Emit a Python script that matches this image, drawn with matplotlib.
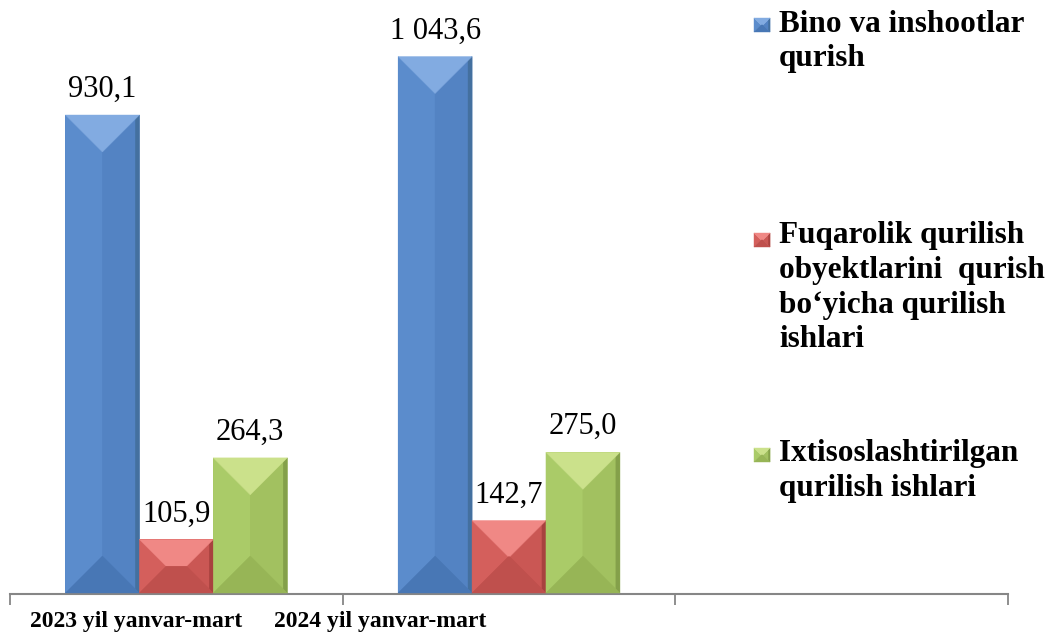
import matplotlib.pyplot as plt
from matplotlib.patches import Polygon
from matplotlib.transforms import IdentityTransform
import numpy as np

# data
periods = ['2023 yil yanvar-mart', '2024 yil yanvar-mart']
series_names = ['Bino va inshootlar\nqurish',
                'Fuqarolik qurilish\nobyektlarini  qurish\nbo\u2018yicha qurilish\nishlari',
                'Ixtisoslashtirilgan\nqurilish ishlari']
bino = [930.1, 1043.6]
fuqarolik = [105.9, 142.7]
ixtisos = [264.3, 275.0]
labels_bino = ['930,1', '1 043,6']
labels_fuq = ['105,9', '142,7']
labels_ixt = ['264,3', '275,0']

# base, top, left, right, bottom, right edge
shades = [
    ['#5587c8', '#82abe1', '#5b8ccc', '#5383c3', '#4877b5', '#44709f'],
    ['#c9514e', '#f08885', '#d45f5c', '#ca5754', '#bf504d', '#a8423f'],
    ['#a4c462', '#cbe18b', '#aacb68', '#a2c160', '#97b556', '#84a04a'],
]

W, H, DPI = 1052, 644, 100
FONT = 'Liberation Serif'

fig = plt.figure(figsize=(W / DPI, H / DPI), dpi=DPI)
ax = fig.add_axes([10 / W, 50 / H, 998 / W, 1 - 50 / H])
ax.set_xlim(-0.5, 2.5)
ax.set_ylim(0, 594 / 0.515)


def bevel(x0, y0, x1, y1, cols, z=3, edge=4):
    # x0..y1 in display pixels
    d = min(x1 - x0, y1 - y0) / 2
    faces = [
        ([(x0, y0), (x0, y1), (x0 + d, y1 - d), (x0 + d, y0 + d)], cols[2]),
        ([(x1, y0), (x1, y1), (x1 - d, y1 - d), (x1 - d, y0 + d)], cols[3]),
        ([(x1 - edge, y0 + edge), (x1, y0), (x1, y1), (x1 - edge, y1 - edge)], cols[5]),
        ([(x0, y1), (x1, y1), (x1 - d, y1 - d), (x0 + d, y1 - d)], cols[1]),
        ([(x0, y0), (x1, y0), (x1 - d, y0 + d), (x0 + d, y0 + d)], cols[4]),
    ]
    for pts, c in faces:
        fig.add_artist(Polygon(pts, closed=True, facecolor=c, edgecolor=c,
                               linewidth=0.3, transform=IdentityTransform(), zorder=z))


bw = 1 / 4.5
x = np.arange(len(periods))
all_vals = [bino, fuqarolik, ixtisos]
all_labels = [labels_bino, labels_fuq, labels_ixt]
for i, (vals, labs) in enumerate(zip(all_vals, all_labels)):
    bars = ax.bar(x + (i - 1) * bw, vals, bw, color=shades[i][0], zorder=2)
    for b, lab in zip(bars, labs):
        ax.annotate(lab, (b.get_x() + b.get_width() / 2, b.get_height()),
                    xytext=(0, 13), textcoords='offset points',
                    ha='center', va='baseline', fontsize=22, family=FONT)

fig.canvas.draw()
for i, vals in enumerate(all_vals):
    for j, v in enumerate(vals):
        x0, y0 = ax.transData.transform((x[j] + (i - 1.5) * bw, 0))
        x1, y1 = ax.transData.transform((x[j] + (i - 0.5) * bw, v))
        bevel(x0, y0 + 1, x1, y1, shades[i])

# axis
for s in ['top', 'left', 'right']:
    ax.spines[s].set_visible(False)
ax.spines['bottom'].set_color('#868686')
ax.spines['bottom'].set_linewidth(1.5)
ax.spines['bottom'].set_zorder(5)
ax.set_yticks([])
ax.set_xticks([-0.5, 0.5, 1.5, 2.5])
ax.set_xticklabels([])
ax.tick_params(axis='x', length=8, width=1.3, color='#868686', direction='out')

label_px = [136, 380]
for lx, txt in zip(label_px, periods):
    fig.text(lx / W, 17 / H, txt, ha='center', va='baseline',
             fontsize=17, fontweight='bold', family=FONT)

# legend (first-line baselines; text anchored on its last line)
leg_base = [33, 248, 463]
line_px = 33
for i, (name, yb) in enumerate(zip(series_names, leg_base)):
    bevel(754, H - (yb - 1), 770, H - (yb - 15), shades[i], z=5, edge=1.5)
    last = yb + line_px * name.count('\n')
    fig.text(779 / W, (H - last) / H, name, ha='left', va='baseline',
             fontsize=22.5, fontweight='bold', family=FONT, linespacing=1.25)

fig.savefig('out.png', dpi=DPI)
